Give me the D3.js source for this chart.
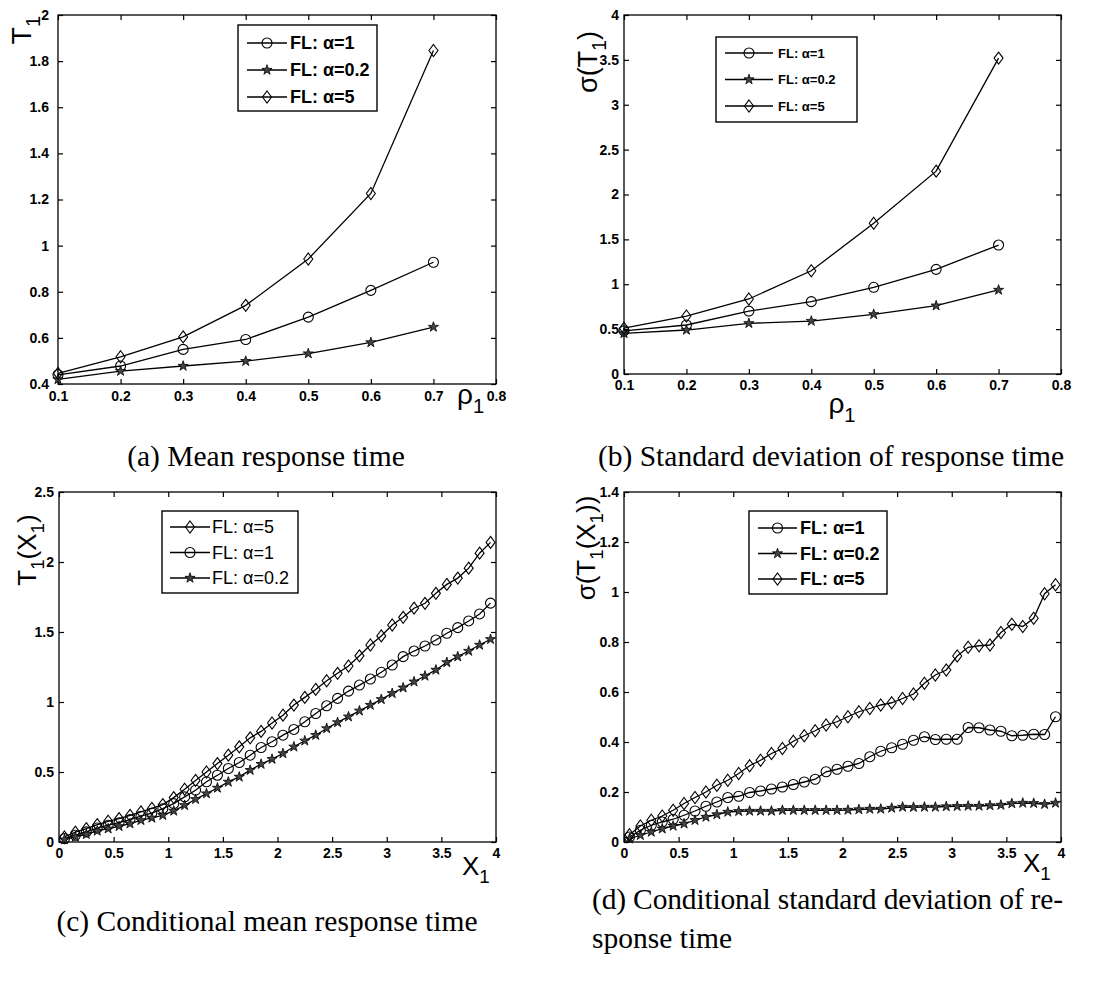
<!DOCTYPE html>
<html>
<head>
<meta charset="utf-8">
<script src="https://cdn.jsdelivr.net/npm/d3@7"></script>
<style>
  body { margin: 0; background: #fff; }
  svg { display: block; }
</style>
</head>
<body>
<script>
// four panels: mean / std of response time vs rho, and conditional versions vs x1

const rho = [0.1, 0.2, 0.3, 0.4, 0.5, 0.6, 0.7];
const meanA1 = [0.44, 0.478, 0.55, 0.593, 0.69, 0.806, 0.928];
const meanA02 = [0.42, 0.456, 0.478, 0.499, 0.532, 0.58, 0.647];
const meanA5 = [0.446, 0.518, 0.604, 0.741, 0.942, 1.226, 1.846];

const sdA1 = [0.48, 0.546, 0.7, 0.806, 0.966, 1.166, 1.437];
const sdA02 = [0.453, 0.49, 0.565, 0.59, 0.665, 0.761, 0.936];
const sdA5 = [0.51, 0.646, 0.836, 1.15, 1.68, 2.26, 3.52];

const x1 = [0.05, 0.15, 0.25, 0.35, 0.45, 0.55, 0.65, 0.75, 0.85, 0.95,
  1.05, 1.15, 1.25, 1.35, 1.45, 1.55, 1.65, 1.75, 1.85, 1.95,
  2.05, 2.15, 2.25, 2.35, 2.45, 2.55, 2.65, 2.75, 2.85, 2.95,
  3.05, 3.15, 3.25, 3.35, 3.45, 3.55, 3.65, 3.75, 3.85, 3.95];

const condMeanA5 = [0.036, 0.07, 0.095, 0.124, 0.148, 0.167, 0.19, 0.215, 0.24, 0.267,
  0.317, 0.377, 0.44, 0.5, 0.56, 0.62, 0.68, 0.744, 0.79, 0.85,
  0.906, 0.978, 1.033, 1.09, 1.152, 1.205, 1.257, 1.33, 1.407, 1.472,
  1.55, 1.605, 1.67, 1.705, 1.776, 1.84, 1.885, 1.956, 2.063, 2.14];
const condMeanA1 = [0.024, 0.048, 0.072, 0.1, 0.12, 0.138, 0.16, 0.184, 0.207, 0.238,
  0.274, 0.322, 0.37, 0.43, 0.477, 0.525, 0.568, 0.62, 0.675, 0.716,
  0.763, 0.804, 0.859, 0.918, 0.973, 1.026, 1.078, 1.121, 1.164, 1.212,
  1.264, 1.324, 1.364, 1.4, 1.443, 1.491, 1.531, 1.579, 1.629, 1.706];
const condMeanA02 = [0.017, 0.036, 0.055, 0.079, 0.095, 0.112, 0.131, 0.155, 0.172, 0.191,
  0.222, 0.262, 0.305, 0.346, 0.386, 0.429, 0.465, 0.513, 0.556, 0.592,
  0.632, 0.68, 0.723, 0.763, 0.811, 0.854, 0.895, 0.937, 0.978, 1.019,
  1.062, 1.102, 1.145, 1.186, 1.229, 1.283, 1.324, 1.364, 1.407, 1.448];

const condSdA1 = [0.02, 0.047, 0.067, 0.08, 0.091, 0.107, 0.124, 0.143, 0.16, 0.178,
  0.183, 0.198, 0.204, 0.212, 0.22, 0.23, 0.24, 0.251, 0.281, 0.291,
  0.303, 0.314, 0.341, 0.363, 0.377, 0.391, 0.407, 0.421, 0.41, 0.411,
  0.411, 0.458, 0.457, 0.448, 0.443, 0.425, 0.427, 0.431, 0.43, 0.501];
const condSdA02 = [0.013, 0.027, 0.04, 0.053, 0.064, 0.073, 0.087, 0.1, 0.11, 0.12,
  0.123, 0.124, 0.124, 0.124, 0.127, 0.127, 0.127, 0.127, 0.127, 0.127,
  0.128, 0.13, 0.132, 0.132, 0.136, 0.14, 0.139, 0.14, 0.14, 0.142,
  0.143, 0.144, 0.144, 0.146, 0.148, 0.154, 0.156, 0.155, 0.151, 0.156];
const condSdA5 = [0.029, 0.064, 0.087, 0.104, 0.127, 0.154, 0.178, 0.2, 0.227, 0.247,
  0.274, 0.305, 0.327, 0.354, 0.374, 0.403, 0.425, 0.445, 0.468, 0.481,
  0.501, 0.521, 0.534, 0.548, 0.557, 0.574, 0.592, 0.635, 0.668, 0.688,
  0.744, 0.779, 0.785, 0.788, 0.838, 0.871, 0.862, 0.895, 0.993, 1.029];

const rhoTicks = [0.1, 0.2, 0.3, 0.4, 0.5, 0.6, 0.7, 0.8];
const x1Ticks = [0, 0.5, 1, 1.5, 2, 2.5, 3, 3.5, 4];
const meanTicks = [0.4, 0.6, 0.8, 1, 1.2, 1.4, 1.6, 1.8, 2];
const sdTicks = [0, 0.5, 1, 1.5, 2, 2.5, 3, 3.5, 4];
const condMeanTicks = [0, 0.5, 1, 1.5, 2, 2.5];
const condSdTicks = [0, 0.2, 0.4, 0.6, 0.8, 1, 1.2, 1.4];

const W = 1110, H = 992;
const svg = d3.select("body").append("svg")
  .attr("width", W).attr("height", H)
  .style("background", "#fff");

const fmt = d => String(+d.toFixed(2));
const diamondPath = "M0,-6L4.5,0L0,6L-4.5,0Z";

function marker(sel, type) {
  if (type === "circle") {
    sel.append("circle").attr("r", 5)
      .attr("fill", "none").attr("stroke", "#000").attr("stroke-width", 1.1);
  } else if (type === "diamond") {
    sel.append("path").attr("d", diamondPath)
      .attr("fill", "none").attr("stroke", "#000").attr("stroke-width", 1.1);
  } else {
    sel.append("path").attr("d", d3.symbol(d3.symbolStar, 32)())
      .attr("fill", "#444").attr("stroke", "#000").attr("stroke-width", 0.8);
  }
}

function drawPanel(p) {
  const x = d3.scaleLinear(p.xDomain, [p.left, p.right]);
  const y = d3.scaleLinear(p.yDomain, [p.bottom, p.top]);
  const g = svg.append("g");

  const styleAxis = a => a
    .call(s => s.select(".domain").remove())
    .attr("font-family", "'Liberation Sans', Arial, sans-serif")
    .attr("font-size", 14)
    .attr("font-weight", "bold")
    .call(s => s.selectAll("line").attr("stroke-width", 1.2));

  g.append("g").attr("transform", `translate(0,${p.bottom})`)
    .call(d3.axisBottom(x).tickValues(p.xTicks).tickFormat(fmt)
      .tickSizeInner(-5).tickSizeOuter(0).tickPadding(p.xPad))
    .call(styleAxis);
  g.append("g").attr("transform", `translate(0,${p.top})`)
    .call(d3.axisTop(x).tickValues(p.xTicks).tickFormat("")
      .tickSizeInner(-5).tickSizeOuter(0))
    .call(styleAxis);
  g.append("g").attr("transform", `translate(${p.left},0)`)
    .call(d3.axisLeft(y).tickValues(p.yTicks).tickFormat(fmt)
      .tickSizeInner(-5).tickSizeOuter(0).tickPadding(p.yPad))
    .call(styleAxis);
  g.append("g").attr("transform", `translate(${p.right},0)`)
    .call(d3.axisRight(y).tickValues(p.yTicks).tickFormat("")
      .tickSizeInner(-5).tickSizeOuter(0))
    .call(styleAxis);

  g.append("rect")
    .attr("x", p.left).attr("y", p.top)
    .attr("width", p.right - p.left).attr("height", p.bottom - p.top)
    .attr("fill", "none").attr("stroke", "#000").attr("stroke-width", 1.3);

  const line = d3.line().x((d, i) => x(p.x[i])).y(d => y(d));

  p.series.forEach(s => {
    g.append("path").datum(s.values)
      .attr("d", line)
      .attr("fill", "none").attr("stroke", "#000").attr("stroke-width", 1.3);
    g.append("g").selectAll("g")
      .data(s.values)
      .join("g")
      .attr("transform", (d, i) => `translate(${x(p.x[i])},${y(d)})`)
      .each(function () { marker(d3.select(this), s.marker); });
  });

  // legend
  const L = p.legend;
  const lg = g.append("g").attr("transform", `translate(${L.x},${L.y})`);
  lg.append("rect").attr("width", L.w).attr("height", L.h)
    .attr("fill", "#fff").attr("stroke", "#000").attr("stroke-width", 1.4);
  L.order.forEach((k, i) => {
    const s = p.series.find(d => d.key === k);
    const row = lg.append("g").attr("transform", `translate(0,${L.first + i * L.step})`);
    row.append("line").attr("x1", L.x1).attr("x2", L.x2)
      .attr("stroke", "#000").attr("stroke-width", 1.3);
    marker(row.append("g").attr("transform", `translate(${(L.x1 + L.x2) / 2},0)`), s.marker);
    row.append("text").attr("x", L.tx).attr("dy", "0.36em")
      .attr("font-family", "'Liberation Sans', Arial, sans-serif")
      .attr("font-size", L.font).attr("font-weight", L.weight)
      .text(s.label);
  });

  // axis labels
  const lab = (sel, parts, size) => {
    sel.attr("font-family", "'Liberation Sans', Arial, sans-serif")
      .attr("font-size", size);
    let shifted = false;
    parts.forEach(pt => {
      const sub = pt.startsWith("_");
      const t = sel.append("tspan").text(sub ? pt.slice(1) : pt);
      if (sub) { t.attr("font-size", size * 0.72).attr("dy", size * 0.32); shifted = true; }
      else if (shifted) { t.attr("dy", -size * 0.32); shifted = false; }
    });
  };

  const yl = g.append("text")
    .attr("transform", `translate(${p.yLabel.x},${p.yLabel.y}) rotate(-90)`)
    .attr("text-anchor", "middle");
  lab(yl, p.yLabel.parts, p.yLabel.size);

  const xl = g.append("text")
    .attr("x", p.xLabel.x).attr("y", p.xLabel.y)
    .attr("text-anchor", p.xLabel.anchor);
  lab(xl, p.xLabel.parts, p.xLabel.size);
}

const lbl = { a1: "FL: α=1", a02: "FL: α=0.2", a5: "FL: α=5" };

const panels = [
  {
    left: 58, right: 496, top: 15, bottom: 384,
    xDomain: [0.1, 0.8], yDomain: [0.4, 2], xTicks: rhoTicks, yTicks: meanTicks,
    xPad: 7, yPad: 9, x: rho,
    series: [
      { key: "a1", label: lbl.a1, marker: "circle", values: meanA1 },
      { key: "a02", label: lbl.a02, marker: "star", values: meanA02 },
      { key: "a5", label: lbl.a5, marker: "diamond", values: meanA5 }
    ],
    legend: { x: 238, y: 25, w: 139, h: 86, first: 18, step: 27, x1: 9, x2: 49, tx: 52,
      font: 18, weight: "bold", order: ["a1", "a02", "a5"] },
    yLabel: { x: 31, y: 30, size: 28, parts: ["T", "_1"] },
    xLabel: { x: 457, y: 404, size: 28, anchor: "start", parts: ["ρ", "_1"] }
  },
  {
    left: 624, right: 1061, top: 15, bottom: 374,
    xDomain: [0.1, 0.8], yDomain: [0, 4], xTicks: rhoTicks, yTicks: sdTicks,
    xPad: 6, yPad: 5, x: rho,
    series: [
      { key: "a1", label: lbl.a1, marker: "circle", values: sdA1 },
      { key: "a02", label: lbl.a02, marker: "star", values: sdA02 },
      { key: "a5", label: lbl.a5, marker: "diamond", values: sdA5 }
    ],
    legend: { x: 716, y: 37, w: 141, h: 85, first: 16, step: 26.5, x1: 9, x2: 57, tx: 62,
      font: 13, weight: "bold", order: ["a1", "a02", "a5"] },
    yLabel: { x: 597, y: 62, size: 27, parts: ["σ(T", "_1", ")"] },
    xLabel: { x: 842, y: 413, size: 28, anchor: "middle", parts: ["ρ", "_1"] }
  },
  {
    left: 59, right: 496, top: 492, bottom: 842,
    xDomain: [0, 4], yDomain: [0, 2.5], xTicks: x1Ticks, yTicks: condMeanTicks,
    xPad: 6, yPad: 5, x: x1,
    series: [
      { key: "a5", label: lbl.a5, marker: "diamond", values: condMeanA5 },
      { key: "a1", label: lbl.a1, marker: "circle", values: condMeanA1 },
      { key: "a02", label: lbl.a02, marker: "star", values: condMeanA02 }
    ],
    legend: { x: 162, y: 511, w: 136, h: 82, first: 16, step: 25.5, x1: 8, x2: 48, tx: 50,
      font: 18, weight: "normal", order: ["a5", "a1", "a02"] },
    yLabel: { x: 36, y: 550, size: 26, parts: ["T", "_1", "(X", "_1", ")"] },
    xLabel: { x: 462, y: 875, size: 26, anchor: "start", parts: ["X", "_1"] }
  },
  {
    left: 624, right: 1061, top: 492, bottom: 842,
    xDomain: [0, 4], yDomain: [0, 1.4], xTicks: x1Ticks, yTicks: condSdTicks,
    xPad: 6, yPad: 5, x: x1,
    series: [
      { key: "a1", label: lbl.a1, marker: "circle", values: condSdA1 },
      { key: "a02", label: lbl.a02, marker: "star", values: condSdA02 },
      { key: "a5", label: lbl.a5, marker: "diamond", values: condSdA5 }
    ],
    legend: { x: 749, y: 511, w: 138, h: 83, first: 17, step: 25.5, x1: 9, x2: 48, tx: 51,
      font: 18, weight: "bold", order: ["a1", "a02", "a5"] },
    yLabel: { x: 595, y: 548, size: 26, parts: ["σ(T", "_1", "(X", "_1", "))"] },
    xLabel: { x: 1023, y: 872, size: 26, anchor: "start", parts: ["X", "_1"] }
  }
];

panels.forEach(drawPanel);

// captions
const cap = svg.append("g")
  .attr("font-family", "'Liberation Serif', 'Times New Roman', serif")
  .attr("font-size", 29.5)
  .attr("fill", "#000");
cap.append("text").attr("x", 266).attr("y", 466).attr("text-anchor", "middle")
  .text("(a) Mean response time");
cap.append("text").attr("x", 831).attr("y", 466).attr("text-anchor", "middle")
  .text("(b) Standard deviation of response time");
cap.append("text").attr("x", 267).attr("y", 931).attr("text-anchor", "middle")
  .text("(c) Conditional mean response time");
cap.append("text").attr("x", 592).attr("y", 909)
  .attr("textLength", 471).attr("lengthAdjust", "spacing")
  .text("(d) Conditional standard deviation of re-");
cap.append("text").attr("x", 592).attr("y", 948)
  .text("sponse time");
</script>
</body>
</html>
